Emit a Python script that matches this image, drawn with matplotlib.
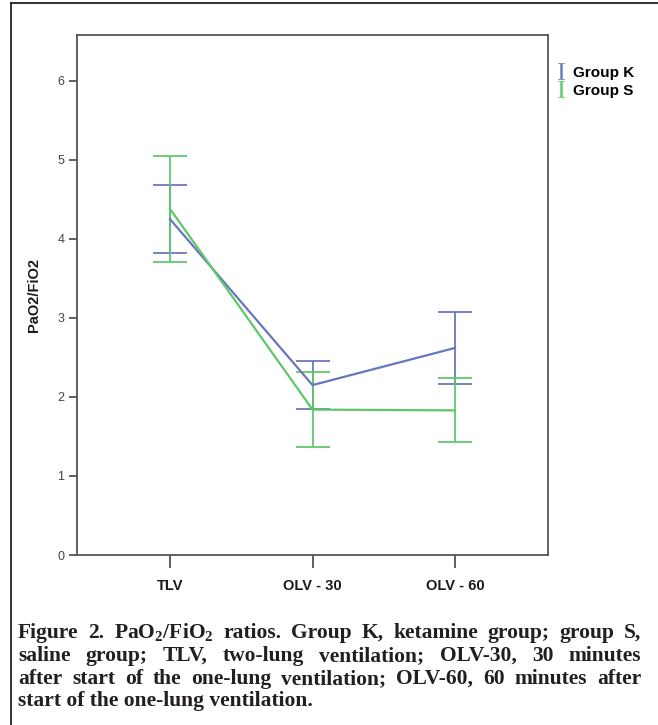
import matplotlib
matplotlib.use("Agg")
import matplotlib.pyplot as plt
from matplotlib.lines import Line2D

# values (mean with upper / lower error bar ends)
stages = ["TLV", "OLV - 30", "OLV - 60"]
k_mean = [4.25, 2.15, 2.62]
k_upper = [4.68, 2.45, 3.08]
k_lower = [3.82, 1.85, 2.16]
s_mean = [4.38, 1.84, 1.83]
s_upper = [5.05, 2.32, 2.24]
s_lower = [3.71, 1.37, 1.43]
yticks = [0, 1, 2, 3, 4, 5, 6]
groups = ["Group K", "Group S"]

caption_lines = [
    r"Figure 2.  PaO$_\mathregular{2}$/FiO$_\mathregular{2}$ ratios. Group K, ketamine group; group S,",
    "saline group; TLV, two-lung ventilation; OLV-30, 30 minutes",
    "after start of the one-lung ventilation; OLV-60, 60 minutes after",
    "start of the one-lung ventilation.",
]

blue = "#6876bd"
green = "#5cc868"

plt.rcParams["font.family"] = ["Liberation Sans", "DejaVu Sans"]
plt.rcParams["mathtext.fontset"] = "custom"
plt.rcParams["mathtext.rm"] = "Liberation Serif"
plt.rcParams["mathtext.bf"] = "Liberation Serif:bold"

fig = plt.figure(figsize=(6.58, 7.25), dpi=100)
ax = fig.add_axes([77 / 658, 1 - 555 / 725, (548 - 77) / 658, (555 - 35) / 725])

x = list(range(len(stages)))


def draw_group(mean, upper, lower, color):
    err = [[m - l for m, l in zip(mean, lower)], [u - m for u, m in zip(upper, mean)]]
    ax.plot(x, mean, color=color, lw=1.6, zorder=3)
    ax.errorbar(x, mean, yerr=err, fmt="none", ecolor=color, elinewidth=1.4,
                capsize=12.5, capthick=1.4, zorder=2, alpha=0.9)


draw_group(k_mean, k_upper, k_lower, blue)
draw_group(s_mean, s_upper, s_lower, green)

ax.set_xlim(-0.653, 2.653)
ax.set_ylim(0, 6.58)
ax.set_xticks(x)
ax.set_xticklabels(stages, fontsize=10.5, fontweight="bold", color="#1a1a1a")
ax.set_yticks(yticks)
ax.set_yticklabels([str(t) for t in yticks], fontsize=9, color="#444444")
ax.tick_params(axis="x", length=9, width=1.2, color="#444444", pad=8)
ax.tick_params(axis="y", length=6, width=1.2, color="#444444", pad=3)
for sp in ax.spines.values():
    sp.set_color("#555555")
    sp.set_linewidth(1.3)
ax.set_ylabel("PaO2/FiO2", fontsize=10.5, fontweight="bold", color="#1a1a1a", labelpad=12)

handles = [Line2D([], [], linestyle="none", marker=r"$\mathrm{I}$", markersize=12,
                  markeredgewidth=0, color=c) for c in (blue, green)]
fig.legend(handles, groups, loc="upper left", bbox_to_anchor=(540 / 658, 1 - 52 / 725),
           frameon=False, handlelength=1.0, handletextpad=0.25, labelspacing=0.25,
           prop={"size": 11, "weight": "bold"})

# outer frame lines (top and left only)
fig.add_artist(Line2D([11 / 658, 11 / 658], [0, 1 - 3 / 725], transform=fig.transFigure,
                      color="#222222", lw=1.3))
fig.add_artist(Line2D([11 / 658, 1], [1 - 3 / 725, 1 - 3 / 725], transform=fig.transFigure,
                      color="#222222", lw=1.3))

# caption, justified between left and right edges
cap_font = dict(family="Liberation Serif", weight="bold", size=15.5, color="#231f20")
left_px, right_px = 18, 641
line_y = [633, 656, 679, 701]
fig.canvas.draw()
renderer = fig.canvas.get_renderer()
for i, (line, yp) in enumerate(zip(caption_lines, line_y)):
    yf = 1 - yp / 725
    if i == len(caption_lines) - 1:
        fig.text(left_px / 658, yf, line, ha="left", va="center", **cap_font)
        continue
    words = line.replace("2.  Pa", "2. Pa").split(" ")
    texts = [fig.text(0, yf, w, ha="left", va="center", **cap_font) for w in words]
    widths = [t.get_window_extent(renderer).width for t in texts]
    gap = (right_px - left_px - sum(widths)) / (len(words) - 1)
    pos = left_px
    for t, w in zip(texts, widths):
        t.set_x(pos / 658)
        pos += w + gap

fig.savefig("out.png", dpi=100)
